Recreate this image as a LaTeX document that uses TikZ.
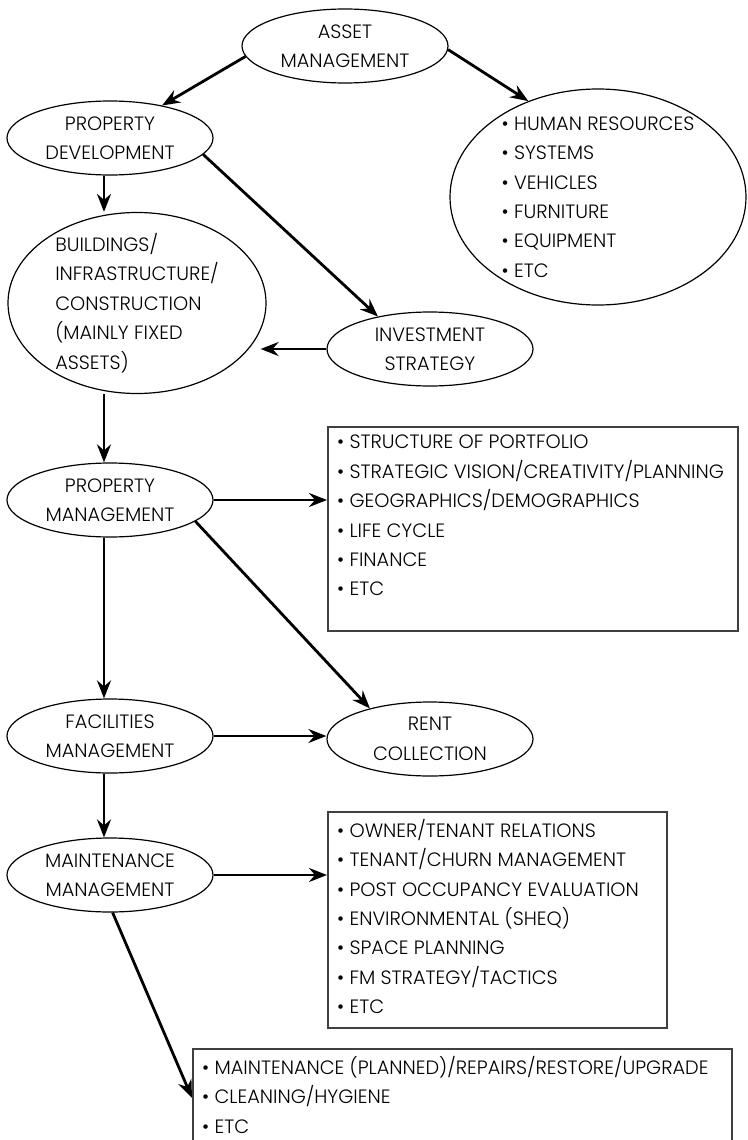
\documentclass[tikz,border=0pt]{standalone}
\usepackage{fontspec}
\setmainfont{Poppins}[UprightFont=* Light]
\usetikzlibrary{shapes.geometric,arrows.meta,calc}
\newcommand\diafont{\fontsize{19.3}{29.4}\selectfont}
\begin{document}
\begin{tikzpicture}[x=1pt,y=-1pt,
  ell/.style={ellipse, draw, line width=1.2pt, inner xsep=-40pt, inner ysep=-40pt, align=center, font=\diafont, minimum width=206pt, minimum height=74pt},
  listbox/.style={rectangle, draw=black!75, line width=1.5pt, anchor=north west, inner sep=0pt},
  listtext/.style={align=left, anchor=north west, inner sep=0pt, font=\diafont},
  arr/.style={line width=2.8pt, -{Stealth[length=18pt,width=14pt,inset=6pt]}}
]
\useasboundingbox (0,0) rectangle (747,1140);
\clip (0,0) rectangle (747,1140);

\node[ell] (asset) at (345,46) {ASSET\\MANAGEMENT};
\node[ell] (propdev) at (110,138) {PROPERTY\\DEVELOPMENT};
\node[ell, align=left, minimum width=296pt, minimum height=216pt] (hr) at (598,197)
  {• HUMAN RESOURCES\\• SYSTEMS\\• VEHICLES\\• FURNITURE\\• EQUIPMENT\\• ETC};
\node[ell, align=left, minimum width=258pt, minimum height=181pt] (buildings) at (137,303)
  {BUILDINGS/\\INFRASTRUCTURE/\\CONSTRUCTION\\(MAINLY FIXED\\ASSETS)};
\node[ell] (invest) at (430,349) {INVESTMENT\\STRATEGY};
\node[ell] (propmgmt) at (110,500) {PROPERTY\\MANAGEMENT};
\node[ell] (facil) at (110,736) {FACILITIES\\MANAGEMENT};
\node[ell] (rent) at (430,739) {RENT\\COLLECTION};
\node[ell] (maint) at (110,875) {MAINTENANCE\\MANAGEMENT};

\node[listbox, minimum width=410pt, minimum height=204pt] (box1) at (327,426) {};
\node[listtext] (box1text) at ($(box1.north west)+(10,9)$)
  {• STRUCTURE OF PORTFOLIO\\• STRATEGIC VISION/CREATIVITY/PLANNING\\• GEOGRAPHICS/DEMOGRAPHICS\\• LIFE CYCLE\\• FINANCE\\• ETC};
\node[listbox, minimum width=339pt, minimum height=216pt] (box2) at (327,811) {};
\node[listtext] (box2text) at ($(box2.north west)+(10,8)$)
  {• OWNER/TENANT RELATIONS\\• TENANT/CHURN MANAGEMENT\\• POST OCCUPANCY EVALUATION\\• ENVIRONMENTAL (SHEQ)\\• SPACE PLANNING\\• FM STRATEGY/TACTICS\\• ETC};
\node[listbox, minimum width=539pt, minimum height=120pt] (box3) at (192,1048) {};
\node[listtext] (box3text) at ($(box3.north west)+(10,8)$)
  {• MAINTENANCE (PLANNED)/REPAIRS/RESTORE/UPGRADE\\• CLEANING/HYGIENE\\• ETC};

\coordinate (colx) at (104,0);
\draw[arr] (asset.186) -- (propdev.32);
\draw[arr] (asset.358) -- (hr.126);
\draw[arr] (propdev.south -| colx) -- (buildings.north -| colx);
\draw[arr] (propdev.-10) -- (invest.148);
\draw[arr] (invest.west) -- ($(invest.west -| buildings.east)+(-6,0)$);
\draw[arr] (buildings.south -| colx) -- (propmgmt.north -| colx);
\draw[arr] (propmgmt.east) -- (propmgmt.east -| box1.west);
\draw[arr] (propmgmt.-14) -- (rent.153);
\draw[arr] (propmgmt.south -| colx) -- (facil.north -| colx);
\draw[arr] (facil.east) -- (facil.east -| rent.west);
\draw[arr] (facil.south -| colx) -- (maint.north -| colx);
\draw[arr] (maint.east) -- (maint.east -| box2.west);
\draw[arr] (maint.-86) -- ($(box3.north west)+(0,50)$);
\end{tikzpicture}
\end{document}
